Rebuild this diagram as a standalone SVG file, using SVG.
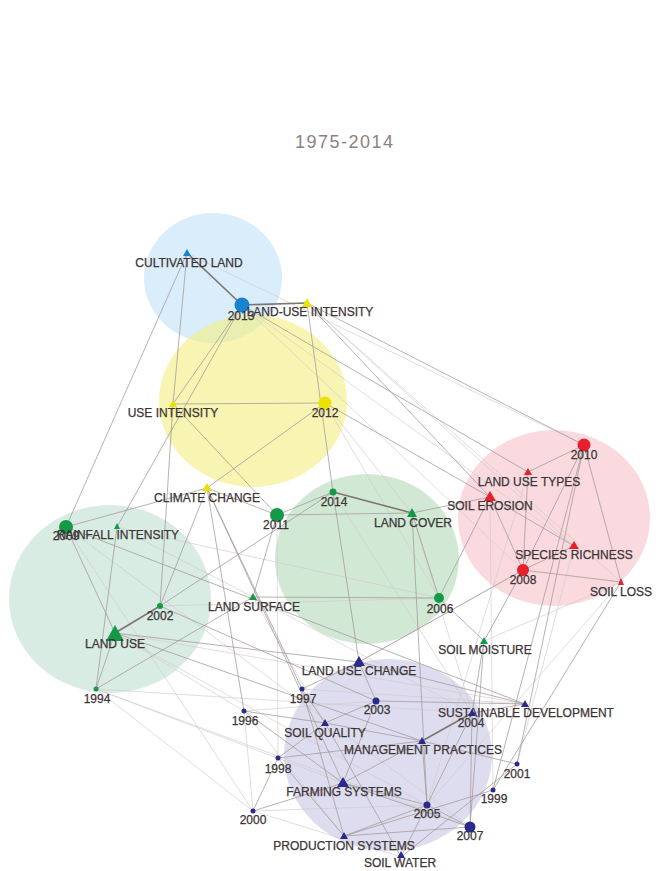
<svg xmlns="http://www.w3.org/2000/svg" width="666" height="871" viewBox="0 0 666 871">
<style>
.bg{fill:#ffffff}
.title{font-family:"Liberation Sans",Arial,sans-serif;font-size:18px;fill:#8c8282;letter-spacing:1.5px}
.lbl{font-family:"Liberation Sans",Arial,sans-serif;font-size:12px;fill:#3a3434;stroke:#3a3434;stroke-width:0.25;text-anchor:middle}
.e{fill:none;stroke-linecap:round}
.ed{stroke:#7e7474;stroke-width:1.6}
.em{stroke:#a39898;stroke-width:0.9;stroke-opacity:0.85}
.el{stroke:#cfc9c9;stroke-width:0.8;stroke-opacity:0.8}
.blue{fill:#1a83d0}
.yel{fill:#ede100}
.grn{fill:#139a47}
.red{fill:#e6212b}
.nav{fill:#2b2a8c}
</style>
<rect class="bg" x="0" y="0" width="666" height="871"/>
<text class="title" x="295" y="148">1975-2014</text>
<g id="clusters">
<ellipse cx="213" cy="278" rx="69" ry="65" fill="#bfe2f6" fill-opacity="0.6"/>
<ellipse cx="253" cy="401" rx="94" ry="86" fill="#f3ee80" fill-opacity="0.6"/>
<ellipse cx="110" cy="599" rx="101" ry="94" fill="#c3e2d4" fill-opacity="0.65"/>
<ellipse cx="367" cy="559" rx="92" ry="85" fill="#b2dab8" fill-opacity="0.6"/>
<ellipse cx="554" cy="518" rx="96" ry="88" fill="#f7c6ce" fill-opacity="0.65"/>
<ellipse cx="388" cy="755" rx="104" ry="96" fill="#cdcbe8" fill-opacity="0.65"/>
</g>
<g id="connectors">
<line class="e el" x1="187" y1="253" x2="584" y2="445"/>
<line class="e el" x1="242" y1="305" x2="574" y2="546"/>
<line class="e el" x1="307" y1="303" x2="621" y2="582"/>
<line class="e el" x1="307" y1="303" x2="574" y2="546"/>
<line class="e el" x1="242" y1="305" x2="523" y2="570"/>
<line class="e el" x1="96" y1="689" x2="472" y2="713"/>
<line class="e el" x1="96" y1="689" x2="470" y2="827"/>
<line class="e el" x1="96" y1="689" x2="343" y2="783"/>
<line class="e el" x1="96" y1="689" x2="253" y2="811"/>
<line class="e el" x1="66" y1="527" x2="470" y2="827"/>
<line class="e el" x1="117" y1="527" x2="253" y2="597"/>
<line class="e el" x1="117" y1="527" x2="439" y2="598"/>
<line class="e el" x1="115" y1="633" x2="427" y2="805"/>
<line class="e el" x1="244" y1="711" x2="253" y2="811"/>
<line class="e el" x1="244" y1="711" x2="344" y2="836"/>
<line class="e el" x1="253" y1="811" x2="427" y2="805"/>
<line class="e el" x1="253" y1="811" x2="401" y2="857"/>
<line class="e el" x1="253" y1="597" x2="472" y2="713"/>
<line class="e el" x1="253" y1="597" x2="325" y2="723"/>
<line class="e el" x1="277" y1="515" x2="278" y2="758"/>
<line class="e el" x1="325" y1="403" x2="439" y2="598"/>
<line class="e el" x1="333" y1="492" x2="472" y2="713"/>
<line class="e el" x1="621" y1="582" x2="427" y2="805"/>
<line class="e el" x1="574" y1="546" x2="517" y2="764"/>
<line class="e el" x1="490" y1="497" x2="493" y2="790"/>
<line class="e el" x1="528" y1="472" x2="427" y2="805"/>
<line class="e el" x1="325" y1="403" x2="412" y2="513"/>
<line class="e el" x1="412" y1="513" x2="472" y2="713"/>
<line class="e el" x1="160" y1="606" x2="439" y2="598"/>
<line class="e el" x1="66" y1="527" x2="253" y2="811"/>
<line class="e el" x1="115" y1="633" x2="244" y2="711"/>
<line class="e el" x1="115" y1="633" x2="525" y2="704"/>
<line class="e el" x1="302" y1="689" x2="525" y2="704"/>
<line class="e el" x1="244" y1="711" x2="376" y2="701"/>
<line class="e el" x1="484" y1="641" x2="621" y2="582"/>
<line class="e el" x1="359" y1="662" x2="523" y2="570"/>
<line class="e em" x1="187" y1="253" x2="173" y2="404"/>
<line class="e em" x1="187" y1="253" x2="66" y2="527"/>
<line class="e em" x1="242" y1="305" x2="173" y2="404"/>
<line class="e em" x1="242" y1="305" x2="117" y2="527"/>
<line class="e em" x1="242" y1="305" x2="528" y2="472"/>
<line class="e em" x1="307" y1="303" x2="333" y2="492"/>
<line class="e em" x1="307" y1="303" x2="584" y2="445"/>
<line class="e em" x1="307" y1="303" x2="490" y2="497"/>
<line class="e em" x1="173" y1="404" x2="325" y2="403"/>
<line class="e em" x1="173" y1="404" x2="277" y2="515"/>
<line class="e em" x1="325" y1="403" x2="207" y2="488"/>
<line class="e em" x1="325" y1="403" x2="490" y2="497"/>
<line class="e em" x1="207" y1="488" x2="66" y2="527"/>
<line class="e em" x1="207" y1="488" x2="277" y2="515"/>
<line class="e em" x1="207" y1="488" x2="160" y2="606"/>
<line class="e em" x1="207" y1="488" x2="244" y2="711"/>
<line class="e em" x1="207" y1="488" x2="302" y2="689"/>
<line class="e em" x1="207" y1="488" x2="343" y2="783"/>
<line class="e em" x1="66" y1="527" x2="115" y2="633"/>
<line class="e em" x1="66" y1="527" x2="525" y2="704"/>
<line class="e em" x1="117" y1="527" x2="96" y2="689"/>
<line class="e em" x1="160" y1="606" x2="173" y2="404"/>
<line class="e em" x1="160" y1="606" x2="333" y2="492"/>
<line class="e em" x1="160" y1="606" x2="376" y2="701"/>
<line class="e em" x1="115" y1="633" x2="96" y2="689"/>
<line class="e em" x1="115" y1="633" x2="359" y2="662"/>
<line class="e em" x1="115" y1="633" x2="422" y2="741"/>
<line class="e em" x1="96" y1="689" x2="253" y2="597"/>
<line class="e em" x1="277" y1="515" x2="412" y2="513"/>
<line class="e em" x1="277" y1="515" x2="333" y2="492"/>
<line class="e em" x1="277" y1="515" x2="253" y2="597"/>
<line class="e em" x1="333" y1="492" x2="359" y2="662"/>
<line class="e em" x1="412" y1="513" x2="439" y2="598"/>
<line class="e em" x1="412" y1="513" x2="490" y2="497"/>
<line class="e em" x1="412" y1="513" x2="427" y2="805"/>
<line class="e em" x1="439" y1="598" x2="484" y2="641"/>
<line class="e em" x1="439" y1="598" x2="490" y2="497"/>
<line class="e em" x1="253" y1="597" x2="439" y2="598"/>
<line class="e em" x1="584" y1="445" x2="528" y2="472"/>
<line class="e em" x1="584" y1="445" x2="523" y2="570"/>
<line class="e em" x1="584" y1="445" x2="621" y2="582"/>
<line class="e em" x1="584" y1="445" x2="517" y2="764"/>
<line class="e em" x1="584" y1="445" x2="493" y2="790"/>
<line class="e em" x1="490" y1="497" x2="523" y2="570"/>
<line class="e em" x1="490" y1="497" x2="574" y2="546"/>
<line class="e em" x1="523" y1="570" x2="621" y2="582"/>
<line class="e em" x1="523" y1="570" x2="574" y2="546"/>
<line class="e em" x1="528" y1="472" x2="523" y2="570"/>
<line class="e em" x1="523" y1="570" x2="484" y2="641"/>
<line class="e em" x1="523" y1="570" x2="359" y2="662"/>
<line class="e em" x1="621" y1="582" x2="493" y2="790"/>
<line class="e em" x1="484" y1="641" x2="470" y2="827"/>
<line class="e em" x1="484" y1="641" x2="472" y2="713"/>
<line class="e em" x1="359" y1="662" x2="302" y2="689"/>
<line class="e em" x1="359" y1="662" x2="376" y2="701"/>
<line class="e em" x1="359" y1="662" x2="525" y2="704"/>
<line class="e em" x1="376" y1="701" x2="325" y2="723"/>
<line class="e em" x1="376" y1="701" x2="343" y2="783"/>
<line class="e em" x1="376" y1="701" x2="525" y2="704"/>
<line class="e em" x1="302" y1="689" x2="325" y2="723"/>
<line class="e em" x1="302" y1="689" x2="344" y2="836"/>
<line class="e em" x1="244" y1="711" x2="343" y2="783"/>
<line class="e em" x1="244" y1="711" x2="325" y2="723"/>
<line class="e em" x1="325" y1="723" x2="278" y2="758"/>
<line class="e em" x1="325" y1="723" x2="422" y2="741"/>
<line class="e em" x1="325" y1="723" x2="401" y2="857"/>
<line class="e em" x1="278" y1="758" x2="422" y2="741"/>
<line class="e em" x1="278" y1="758" x2="344" y2="836"/>
<line class="e em" x1="278" y1="758" x2="253" y2="811"/>
<line class="e em" x1="343" y1="783" x2="422" y2="741"/>
<line class="e em" x1="343" y1="783" x2="427" y2="805"/>
<line class="e em" x1="253" y1="811" x2="343" y2="783"/>
<line class="e em" x1="343" y1="783" x2="470" y2="827"/>
<line class="e em" x1="422" y1="741" x2="517" y2="764"/>
<line class="e em" x1="422" y1="741" x2="427" y2="805"/>
<line class="e em" x1="472" y1="713" x2="525" y2="704"/>
<line class="e em" x1="472" y1="713" x2="470" y2="827"/>
<line class="e em" x1="472" y1="713" x2="427" y2="805"/>
<line class="e em" x1="427" y1="805" x2="470" y2="827"/>
<line class="e em" x1="427" y1="805" x2="344" y2="836"/>
<line class="e em" x1="344" y1="836" x2="493" y2="790"/>
<line class="e em" x1="401" y1="857" x2="517" y2="764"/>
<line class="e em" x1="401" y1="857" x2="427" y2="805"/>
<line class="e em" x1="344" y1="836" x2="470" y2="827"/>
<line class="e ed" x1="187" y1="253" x2="242" y2="305"/>
<line class="e ed" x1="242" y1="305" x2="307" y2="303"/>
<line class="e ed" x1="333" y1="492" x2="412" y2="513"/>
<line class="e ed" x1="160" y1="606" x2="115" y2="633"/>
<line class="e ed" x1="422" y1="741" x2="472" y2="713"/>
</g>
<g id="n-cultivated-land"><polygon class="blue" points="187,249 191,256 183,256"/><text class="lbl" x="189" y="267">CULTIVATED LAND</text></g>
<g id="n-2013"><circle class="blue" cx="242" cy="305" r="7.5"/><text class="lbl" x="241" y="320">2013</text></g>
<g id="n-land-use-intensity"><polygon class="yel" points="307,298 312,307 302,307"/><text class="lbl" x="310" y="316">LAND-USE INTENSITY</text></g>
<g id="n-use-intensity"><polygon class="yel" points="173,400 177,407 169,407"/><text class="lbl" x="173" y="417">USE INTENSITY</text></g>
<g id="n-2012"><circle class="yel" cx="325" cy="403" r="6.5"/><text class="lbl" x="325" y="417">2012</text></g>
<g id="n-climate-change"><polygon class="yel" points="207,483 212,491 202,491"/><text class="lbl" x="207" y="502">CLIMATE CHANGE</text></g>
<g id="n-2014"><circle class="grn" cx="333" cy="492" r="3.5"/><text class="lbl" x="334" y="506">2014</text></g>
<g id="n-2011"><circle class="grn" cx="277" cy="515" r="7"/><text class="lbl" x="276" y="529">2011</text></g>
<g id="n-2009"><circle class="grn" cx="66" cy="527" r="7"/><text class="lbl" x="66" y="540">2009</text></g>
<g id="n-rainfall-intensity"><polygon class="grn" points="117,523 120,529 114,529"/><text class="lbl" x="118" y="539">RAINFALL INTENSITY</text></g>
<g id="n-2002"><circle class="grn" cx="160" cy="606" r="3"/><text class="lbl" x="160" y="620">2002</text></g>
<g id="n-land-use"><polygon class="grn" points="115,625 124,641 106,641"/><text class="lbl" x="115" y="648">LAND USE</text></g>
<g id="n-1994"><circle class="grn" cx="96" cy="689" r="2.5"/><text class="lbl" x="97" y="703">1994</text></g>
<g id="n-land-cover"><polygon class="grn" points="412,508 417,517 407,517"/><text class="lbl" x="413" y="527">LAND COVER</text></g>
<g id="n-land-surface"><polygon class="grn" points="253,593 257,600 249,600"/><text class="lbl" x="254" y="611">LAND SURFACE</text></g>
<g id="n-2006"><circle class="grn" cx="439" cy="598" r="5"/><text class="lbl" x="440" y="613">2006</text></g>
<g id="n-soil-moisture"><polygon class="grn" points="484,637 488,644 480,644"/><text class="lbl" x="485" y="654">SOIL MOISTURE</text></g>
<g id="n-2010"><circle class="red" cx="584" cy="445" r="6.5"/><text class="lbl" x="584" y="459">2010</text></g>
<g id="n-land-use-types"><polygon class="red" points="528,468 532,475 524,475"/><text class="lbl" x="529" y="486">LAND USE TYPES</text></g>
<g id="n-soil-erosion"><polygon class="red" points="490,491 496,501 484,501"/><text class="lbl" x="490" y="510">SOIL EROSION</text></g>
<g id="n-species-richness"><polygon class="red" points="574,541 579,549 569,549"/><text class="lbl" x="574" y="559">SPECIES RICHNESS</text></g>
<g id="n-2008"><circle class="red" cx="523" cy="570" r="6"/><text class="lbl" x="523" y="584">2008</text></g>
<g id="n-soil-loss"><polygon class="red" points="621,578 624,585 618,585"/><text class="lbl" x="621" y="596">SOIL LOSS</text></g>
<g id="n-land-use-change"><polygon class="nav" points="359,656 365,666 353,666"/><text class="lbl" x="359" y="675">LAND USE CHANGE</text></g>
<g id="n-1997"><circle class="nav" cx="302" cy="689" r="2.5"/><text class="lbl" x="303" y="703">1997</text></g>
<g id="n-2003"><circle class="nav" cx="376" cy="701" r="3.5"/><text class="lbl" x="377" y="714">2003</text></g>
<g id="n-1996"><circle class="nav" cx="244" cy="711" r="2.5"/><text class="lbl" x="245" y="725">1996</text></g>
<g id="n-soil-quality"><polygon class="nav" points="325,719 329,726 321,726"/><text class="lbl" x="325" y="737">SOIL QUALITY</text></g>
<g id="n-sustainable-development"><polygon class="nav" points="525,700 529,707 521,707"/><text class="lbl" x="526" y="717">SUSTAINABLE DEVELOPMENT</text></g>
<g id="n-2004"><polygon class="nav" points="472,709 476,716 468,716"/><text class="lbl" x="471" y="727">2004</text></g>
<g id="n-management-practices"><polygon class="nav" points="422,737 426,744 418,744"/><text class="lbl" x="423" y="754">MANAGEMENT PRACTICES</text></g>
<g id="n-1998"><circle class="nav" cx="278" cy="758" r="2.5"/><text class="lbl" x="278" y="773">1998</text></g>
<g id="n-2001"><circle class="nav" cx="517" cy="764" r="2.5"/><text class="lbl" x="517" y="778">2001</text></g>
<g id="n-farming-systems"><polygon class="nav" points="343,777 349,787 337,787"/><text class="lbl" x="344" y="796">FARMING SYSTEMS</text></g>
<g id="n-1999"><circle class="nav" cx="493" cy="790" r="2.5"/><text class="lbl" x="494" y="803">1999</text></g>
<g id="n-2005"><circle class="nav" cx="427" cy="805" r="3.5"/><text class="lbl" x="427" y="818">2005</text></g>
<g id="n-2007"><circle class="nav" cx="470" cy="827" r="5.5"/><text class="lbl" x="470" y="840">2007</text></g>
<g id="n-2000"><circle class="nav" cx="253" cy="811" r="2.5"/><text class="lbl" x="253" y="824">2000</text></g>
<g id="n-production-systems"><polygon class="nav" points="344,832 348,839 340,839"/><text class="lbl" x="344" y="850">PRODUCTION SYSTEMS</text></g>
<g id="n-soil-water"><polygon class="nav" points="401,851 405,858 397,858"/><text class="lbl" x="400" y="867">SOIL WATER</text></g>
</svg>
